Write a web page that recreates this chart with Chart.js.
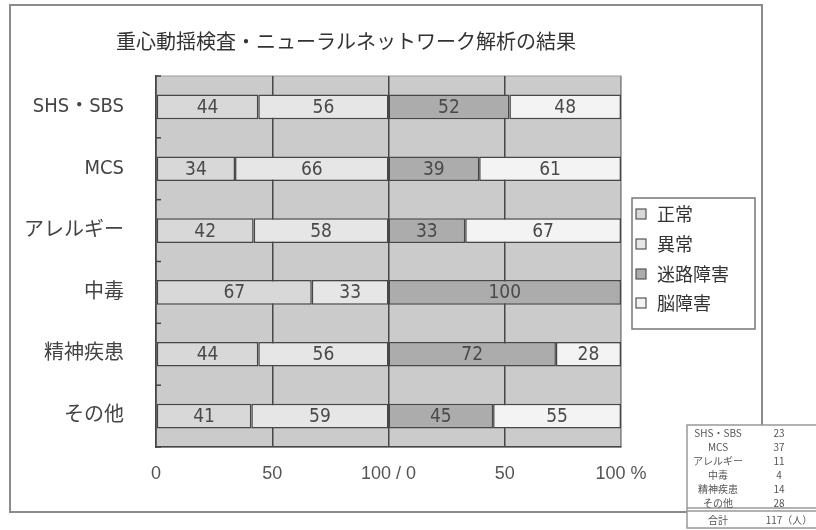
<!DOCTYPE html>
<html>
<head>
<meta charset="utf-8">
<script src="https://cdn.jsdelivr.net/npm/chart.js@4.4.0/dist/chart.umd.min.js"></script>
<style>
  body { margin: 0; background: #fff; }
  #myChart { display: block; }
</style>
</head>
<body>
<canvas id="myChart" width="816" height="530"></canvas>
<script>
(function() {
    const ctx = document.getElementById('myChart');

    const categories = ['SHS・SBS', 'MCS', 'アレルギー', '中毒', '精神疾患', 'その他'];
    const normal = [44, 34, 42, 67, 44, 41];
    const abnormal = [56, 66, 58, 33, 56, 59];
    const labyrinth = [52, 39, 33, 100, 72, 45];
    const brain = [48, 61, 67, 0, 28, 55];
    const xTickLabels = ['0', '50', '100 / 0', '50', '100 %'];
    const patientCounts = [23, 37, 11, 4, 14, 28];

    const narrow = "'Liberation Sans Narrow', 'DejaVu Sans Condensed', 'Noto Sans CJK JP', sans-serif";
    const jp = "'Noto Sans CJK JP', sans-serif";
    const border = '#474747';

    // frame, title, legend box, table, labels inside bars
    const decor = {
        id: 'decor',
        beforeDraw(chart) {
            const c = chart.ctx;
            const a = chart.chartArea;
            c.save();
            c.fillStyle = '#fff';
            c.fillRect(0, 0, chart.width, chart.height);
            c.strokeStyle = '#8c8c8c';
            c.lineWidth = 2;
            c.strokeRect(10, 5, 752, 507);
            c.fillStyle = '#cbcbcb';
            c.fillRect(a.left, a.top, a.right - a.left, a.bottom - a.top);
            c.strokeStyle = '#9a9a9a';
            c.lineWidth = 1;
            c.strokeRect(a.left, a.top, a.right - a.left, a.bottom - a.top);
            c.restore();
        },
        afterDatasetsDraw(chart) {
            const c = chart.ctx;
            const y = chart.scales.y;
            c.save();
            c.font = `19px ${narrow}`;
            c.fillStyle = '#4a4a4a';
            c.textAlign = 'center';
            c.textBaseline = 'middle';
            chart.data.datasets.forEach((ds, i) => {
                chart.getDatasetMeta(i).data.forEach((bar, j) => {
                    const v = ds.data[j];
                    if (!v) return;
                    const p = bar.getProps(['x', 'y', 'base'], true);
                    c.fillText(String(v), (p.x + p.base) / 2, p.y + 1);
                });
            });
            // short ticks inside the plot at category boundaries
            const step = y.getPixelForValue(1) - y.getPixelForValue(0);
            c.strokeStyle = border;
            c.lineWidth = 1.5;
            for (let i = 0; i <= categories.length; i++) {
                const py = y.getPixelForValue(i) - step / 2;
                c.beginPath();
                c.moveTo(chart.chartArea.left, py);
                c.lineTo(chart.chartArea.left + 5, py);
                c.stroke();
            }
            c.restore();
        },
        afterDraw(chart) {
            const c = chart.ctx;
            c.save();
            c.fillStyle = '#333';
            c.font = `20px ${jp}`;
            c.textAlign = 'center';
            c.textBaseline = 'middle';
            c.fillText('重心動揺検査・ニューラルネットワーク解析の結果', 346, 41);

            // legend
            c.fillStyle = '#fff';
            c.fillRect(632, 198, 123, 131);
            c.strokeStyle = '#777';
            c.lineWidth = 1.5;
            c.strokeRect(632, 198, 123, 131);
            const rows = [214, 244, 274, 303];
            chart.data.datasets.forEach((ds, i) => {
                c.fillStyle = ds.backgroundColor;
                c.fillRect(636, rows[i] - 5, 10, 10);
                c.strokeStyle = '#555';
                c.lineWidth = 1.2;
                c.strokeRect(636, rows[i] - 5, 10, 10);
                c.fillStyle = '#333';
                c.font = `18px ${jp}`;
                c.textAlign = 'left';
                c.fillText(ds.label, 657, rows[i]);
            });

            // patient count table
            c.fillStyle = '#fff';
            c.fillRect(687, 425, 140, 103);
            c.strokeStyle = '#999';
            c.lineWidth = 1.5;
            c.strokeRect(687, 425, 140, 103);
            c.beginPath();
            c.moveTo(687, 508); c.lineTo(816, 508);
            c.moveTo(687, 511); c.lineTo(816, 511);
            c.stroke();
            c.fillStyle = '#555';
            c.font = `10px ${jp}`;
            c.textAlign = 'center';
            categories.forEach((name, i) => {
                const ty = 433 + i * 14;
                c.fillText(name, 718, ty);
                c.fillText(String(patientCounts[i]), 779, ty);
            });
            const total = patientCounts.reduce((s, v) => s + v, 0);
            c.fillText('合計', 718, 520);
            c.fillText(`${total}（人）`, 789, 520);
            c.restore();
        }
    };

    const options = {
        responsive: false,
        animation: false,
        indexAxis: 'y',
        layout: {
            padding: { left: 0, right: 195, top: 76, bottom: 43 }
        },
        scales: {
            x: {
                stacked: true,
                min: 0,
                max: 200,
                afterFit: (scale) => { scale.height = 40; },
                ticks: {
                    stepSize: 50,
                    padding: 16,
                    color: '#555',
                    font: { family: "'Liberation Sans', sans-serif", size: 18 },
                    callback: (value, index) => xTickLabels[index]
                },
                grid: {
                    drawTicks: false,
                    lineWidth: 1.5,
                    color: (c) => c.index === 4 ? '#8a8a8a' : border
                },
                border: { display: true, color: border, width: 1.5 }
            },
            y: {
                stacked: true,
                afterFit: (scale) => { scale.width = 156; },
                ticks: {
                    padding: 24,
                    color: '#444',
                    font: { family: narrow, size: 20 }
                },
                grid: { display: false },
                border: { display: true, color: border, width: 1.5 }
            }
        },
        plugins: {
            legend: { display: false },
            title: { display: false },
            tooltip: { enabled: false }
        }
    };

    const barStyle = {
        borderColor: border,
        borderWidth: 1.5,
        borderSkipped: false,
        categoryPercentage: 1,
        barPercentage: 0.4
    };

    new Chart(ctx, {
        type: 'bar',
        data: {
            labels: categories,
            datasets: [
                { label: '正常', data: normal, backgroundColor: '#d8d8d8', ...barStyle },
                { label: '異常', data: abnormal, backgroundColor: '#e6e6e6', ...barStyle },
                { label: '迷路障害', data: labyrinth, backgroundColor: '#acacac', ...barStyle },
                { label: '脳障害', data: brain, backgroundColor: '#f3f3f3', ...barStyle }
            ]
        },
        options: options,
        plugins: [decor]
    });
})();
</script>
</body>
</html>
